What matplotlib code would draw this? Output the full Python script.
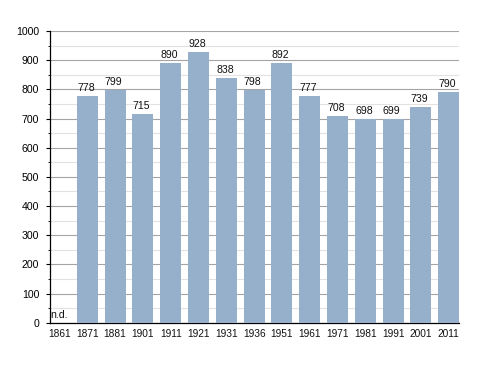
import matplotlib
matplotlib.use("Agg")
import matplotlib.pyplot as plt
from matplotlib.ticker import MultipleLocator

years = ["1861", "1871", "1881", "1901", "1911", "1921", "1931", "1936",
         "1951", "1961", "1971", "1981", "1991", "2001", "2011"]
values = [None, 778, 799, 715, 890, 928, 838, 798, 892, 777, 708, 698, 699, 739, 790]

plt.rcParams['font.family'] = ['Liberation Sans', 'DejaVu Sans']
FS = 7.6
FSX = 7.3

fig = plt.figure(figsize=(4.88, 3.73), dpi=100)
ax = fig.add_axes([50 / 488, 1 - 322.7 / 373, 409 / 488, (322.7 - 31) / 373])

xs = list(range(len(years)))
for x, v in zip(xs, values):
    if v is None:
        ax.annotate("n.d.", xy=(x - 0.33, 0), xytext=(0, 3.4), textcoords='offset points',
                    fontsize=FS, ha='left', va='baseline', color='#111111')
        continue
    ax.bar(x, v, width=0.76, color='#96b0cb', zorder=3)
    ax.annotate(str(v), xy=(x, v), xytext=(-1, 3.6), textcoords='offset points',
                fontsize=FS, ha='center', va='baseline', color='#111111', zorder=4)

ax.set_xlim(-0.342, 14.37)
ax.set_ylim(0, 1000)
ax.set_xticks(xs)
ax.set_xticklabels(years, fontsize=FSX)
for lbl in ax.get_xticklabels():
    lbl.set_color('#111111')
ax.yaxis.set_major_locator(MultipleLocator(100))
ax.yaxis.set_minor_locator(MultipleLocator(50))
ax.tick_params(axis='y', labelsize=FS, length=3.2, width=0.8, color='#000000', pad=4.5)
ax.tick_params(axis='y', which='minor', length=1.7, width=0.6)
ax.tick_params(axis='x', length=0, pad=4.3)
ax.grid(axis='y', which='major', color='#a4a4a4', linewidth=0.8, zorder=0)
ax.grid(axis='y', which='minor', color='#e2e2e2', linewidth=0.8, zorder=0)
for s in ['top', 'right']:
    ax.spines[s].set_visible(False)
ax.spines['left'].set_linewidth(0.9)
ax.spines['bottom'].set_linewidth(0.9)

fig.savefig("out.png", dpi=100)
